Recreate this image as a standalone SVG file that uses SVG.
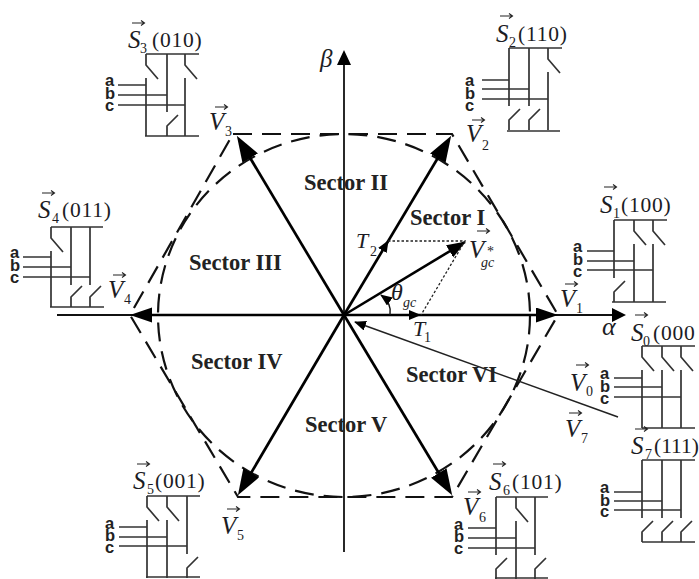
<svg xmlns="http://www.w3.org/2000/svg" xmlns:xlink="http://www.w3.org/1999/xlink" width="699" height="579" viewBox="0 0 699 579">
<style>
text{font-family:"Liberation Serif","Times New Roman",serif;fill:#1c1c24}
.i{font-style:italic}
.sym{font-size:25px;font-style:italic}
.sub{font-size:14px}
.isub{font-size:14px;font-style:italic}
.st{font-size:21.5px;letter-spacing:.8px}
.sec{font-size:22.5px;font-weight:bold;fill:#222}
.abc{font-family:"Liberation Sans",Arial,sans-serif;font-size:16.5px;font-weight:bold;fill:#222}
.c{fill:none;stroke:#333;stroke-width:1.7}
.w{fill:none;stroke:#333;stroke-width:1.5}
.ov{fill:none;stroke:#222;stroke-width:1.1}
.main{stroke:#000;stroke-width:2.7;fill:none}
.h{marker-end:url(#big)}
.d{marker-end:url(#diag)}
.dash{fill:none;stroke:#111;stroke-width:2.2;stroke-dasharray:19 10}
.dot{fill:none;stroke:#222;stroke-width:1.3;stroke-dasharray:2.5 2}
</style>
<defs>
<marker id="big" markerUnits="userSpaceOnUse" markerWidth="24" markerHeight="16" refX="12" refY="7.5" orient="auto"><path d="M0 0L22 7.5L0 15z" fill="#000"/></marker>
<marker id="diag" markerUnits="userSpaceOnUse" markerWidth="28" markerHeight="20" refX="14" refY="9" orient="auto"><path d="M0 0L26 9L0 18z" fill="#000"/></marker>
<marker id="mid" markerUnits="userSpaceOnUse" markerWidth="24" markerHeight="18" refX="18" refY="7" orient="auto"><path d="M0 0L19 7L0 14z" fill="#000"/></marker>
<marker id="sm" markerUnits="userSpaceOnUse" markerWidth="14" markerHeight="12" refX="11" refY="5" orient="auto"><path d="M0 0L12 5L0 10z" fill="#000"/></marker>
<path id="uo" class="c" d="M0 0V11L12 25M0 24V82"/>
<path id="lo" class="c" d="M0 0V58M0 82V72L11 61"/>
<path id="ar" class="ov" d="M0 0H12M9 -2.5L12.5 0L9 2.5"/>
</defs>

<g id="connectors">
<ellipse class="dash" cx="344" cy="315.500" rx="186" ry="181.500"/>
<path class="dash" d="M233 134H452L558 315L452 497H238L130 315Z"/>
<path d="M57 315H612" fill="none" stroke="#111" stroke-width="1.8"/>
<path d="M612 308L626 315L612 322z" fill="#000"/>
<path d="M344 552V62" fill="none" stroke="#111" stroke-width="1.8"/>
<path d="M337 65L344 50L351 65z" fill="#000"/>
<line class="main h" x1="344" y1="315" x2="548" y2="315"/>
<line class="main d" x1="344" y1="315" x2="445" y2="146"/>
<line class="main d" x1="344" y1="315" x2="243" y2="146"/>
<line class="main h" x1="344" y1="315" x2="140" y2="315"/>
<line class="main d" x1="344" y1="315" x2="244" y2="485"/>
<line class="main d" x1="344" y1="315" x2="446" y2="485"/>
<line x1="344" y1="315" x2="465" y2="242" stroke="#000" stroke-width="2.6" marker-end="url(#mid)"/>
<line x1="344" y1="315" x2="388" y2="241" stroke="#000" stroke-width="0" marker-end="url(#sm)"/>
<line x1="344" y1="315" x2="420" y2="315" stroke="#000" stroke-width="0" marker-end="url(#sm)"/>
<path class="dot" d="M388 241H465L421 315"/>
<path d="M390 315Q392 303 381 295" fill="none" stroke="#111" stroke-width="1.4" marker-end="url(#sm)"/>
<line x1="618" y1="417" x2="355" y2="322" stroke="#222" stroke-width="1.6" marker-end="url(#sm)"/>
</g>

<g id="S3">
<path class="c" d="M146 54H199M145 136H199"/>
<use xlink:href="#uo" href="#uo" x="146" y="54"/><use xlink:href="#lo" href="#lo" x="167" y="54"/><use xlink:href="#uo" href="#uo" x="185" y="54"/>
<path class="w" d="M118 85H146M118 95H167M118 105H185"/>
<text class="abc" x="105" y="86">a</text><text class="abc" x="105" y="99">b</text><text class="abc" x="105" y="111">c</text>
<use xlink:href="#ar" href="#ar" x="132" y="23"/>
<text class="sym" x="128" y="48">S</text><text class="sub" x="140" y="53">3</text><text class="st" x="152" y="47">(010)</text>
</g>
<g id="S2">
<path class="c" d="M509 48H562M507 131H560"/>
<use xlink:href="#lo" href="#lo" x="509" y="48"/><use xlink:href="#lo" href="#lo" x="529" y="48"/><use xlink:href="#uo" href="#uo" x="548" y="48"/>
<path class="w" d="M482 80H509M482 89H529M482 99H548"/>
<text class="abc" x="465" y="86">a</text><text class="abc" x="465" y="99">b</text><text class="abc" x="465" y="111">c</text>
<use xlink:href="#ar" href="#ar" x="500" y="16"/>
<text class="sym" x="496" y="42">S</text><text class="sub" x="509" y="47">2</text><text class="st" x="518" y="41">(110)</text>
</g>
<g id="S1">
<path class="c" d="M614 220H667M612 302H666"/>
<use xlink:href="#lo" href="#lo" x="614" y="220"/><use xlink:href="#uo" href="#uo" x="634" y="220"/><use xlink:href="#uo" href="#uo" x="653" y="220"/>
<path class="w" d="M587 251H614M587 261H634M587 270H653"/>
<text class="abc" x="573" y="252">a</text><text class="abc" x="573" y="265">b</text><text class="abc" x="573" y="277">c</text>
<use xlink:href="#ar" href="#ar" x="604" y="187"/>
<text class="sym" x="600" y="213">S</text><text class="sub" x="613" y="218">1</text><text class="st" x="621" y="212">(100)</text>
</g>
<g id="S0">
<path class="c" d="M642 346H695M642 428H695"/>
<use xlink:href="#uo" href="#uo" x="642" y="346"/><use xlink:href="#uo" href="#uo" x="662" y="346"/><use xlink:href="#uo" href="#uo" x="681" y="346"/>
<path class="w" d="M614 378H642M614 387H662M614 397H681"/>
<text class="abc" x="600" y="379">a</text><text class="abc" x="600" y="392">b</text><text class="abc" x="600" y="404">c</text>
<use xlink:href="#ar" href="#ar" x="635" y="315"/>
<text class="sym" x="631" y="341">S</text><text class="sub" x="643" y="346">0</text><text class="st" x="653" y="340">(000</text>
</g>
<g id="S7">
<path class="c" d="M642 460H695M642 542H695"/>
<use xlink:href="#lo" href="#lo" x="642" y="460"/><use xlink:href="#lo" href="#lo" x="662" y="460"/><use xlink:href="#lo" href="#lo" x="681" y="460"/>
<path class="w" d="M614 492H642M614 501H662M614 510H681"/>
<text class="abc" x="600" y="493">a</text><text class="abc" x="600" y="506">b</text><text class="abc" x="600" y="517">c</text>
<use xlink:href="#ar" href="#ar" x="635" y="429"/>
<text class="sym" x="631" y="454">S</text><text class="sub" x="645" y="459">7</text><text class="st" x="654" y="453" style="letter-spacing:0">(111)</text>
</g>
<g id="S4">
<path class="c" d="M51 227H103M50 307H104M51 227V238L63 252M51 251V307M71 227V285M71 307V297L82 286M90 227V285M90 307V297L101 286"/>
<path class="w" d="M23 257H51M23 267H71M23 277H90"/>
<text class="abc" x="10" y="258">a</text><text class="abc" x="10" y="271">b</text><text class="abc" x="10" y="283">c</text>
<use xlink:href="#ar" href="#ar" x="42" y="193"/>
<text class="sym" x="38" y="218">S</text><text class="sub" x="52" y="223">4</text><text class="st" x="62" y="217">(011)</text>
</g>
<g id="S5">
<path class="c" d="M147 496H200M146 577H200"/>
<use xlink:href="#uo" href="#uo" x="147" y="496"/><use xlink:href="#uo" href="#uo" x="167" y="496"/><use xlink:href="#lo" href="#lo" x="187" y="496"/>
<path class="w" d="M119 527H147M119 537H167M119 546H187"/>
<text class="abc" x="105" y="529">a</text><text class="abc" x="105" y="541">b</text><text class="abc" x="105" y="553">c</text>
<use xlink:href="#ar" href="#ar" x="137" y="464"/>
<text class="sym" x="133" y="489">S</text><text class="sub" x="147" y="494">5</text><text class="st" x="155" y="488">(001)</text>
</g>
<g id="S6">
<path class="c" d="M496 497H548M495 578H548"/>
<use xlink:href="#lo" href="#lo" x="496" y="497"/><use xlink:href="#uo" href="#uo" x="516" y="497"/><use xlink:href="#lo" href="#lo" x="535" y="497"/>
<path class="w" d="M468 528H496M468 538H516M468 548H535"/>
<text class="abc" x="454" y="530">a</text><text class="abc" x="454" y="542">b</text><text class="abc" x="454" y="554">c</text>
<use xlink:href="#ar" href="#ar" x="493" y="464"/>
<text class="sym" x="489" y="490">S</text><text class="sub" x="503" y="495">6</text><text class="st" x="512" y="489">(101)</text>
</g>

<g id="V1"><use xlink:href="#ar" href="#ar" x="565" y="284"/><text class="sym" x="560" y="307">V</text><text class="sub" x="576" y="313">1</text></g>
<g id="V2"><use xlink:href="#ar" href="#ar" x="472" y="120"/><text class="sym" x="466" y="142">V</text><text class="sub" x="482" y="150">2</text></g>
<g id="V3"><use xlink:href="#ar" href="#ar" x="215" y="107"/><text class="sym" x="209" y="130">V</text><text class="sub" x="225" y="136">3</text></g>
<g id="V4"><use xlink:href="#ar" href="#ar" x="113" y="275"/><text class="sym" x="108" y="298">V</text><text class="sub" x="124" y="304">4</text></g>
<g id="V5"><use xlink:href="#ar" href="#ar" x="227" y="509"/><text class="sym" x="221" y="534">V</text><text class="sub" x="237" y="540">5</text></g>
<g id="V6"><use xlink:href="#ar" href="#ar" x="468" y="492"/><text class="sym" x="463" y="515">V</text><text class="sub" x="479" y="522">6</text></g>
<g id="V0"><use xlink:href="#ar" href="#ar" x="576" y="365"/><text class="sym" x="570" y="391">V</text><text class="sub" x="586" y="396">0</text></g>
<g id="V7"><use xlink:href="#ar" href="#ar" x="569" y="413"/><text class="sym" x="565" y="437">V</text><text class="sub" x="581" y="443">7</text></g>
<g id="Vgc"><use xlink:href="#ar" href="#ar" x="477" y="231"/><text class="sym" x="469" y="258">V</text><text class="sub" x="487" y="256">*</text><text class="isub" x="481" y="267">gc</text></g>
<g id="T2"><text class="i" font-size="22" x="356" y="248">T</text><text class="sub" x="370" y="256">2</text></g>
<g id="T1"><text class="i" font-size="22" x="413" y="336">T</text><text class="sub" x="424" y="342">1</text></g>
<g id="theta"><text class="i" font-size="24" x="391" y="300">θ</text><text class="isub" x="403" y="307">gc</text></g>
<g id="axes-labels"><text class="i" font-size="25" x="320" y="67">β</text><text class="i" font-size="26" x="602" y="335">α</text></g>

<g id="sectors">
<text class="sec" x="410" y="225">Sector I</text>
<text class="sec" x="304" y="190">Sector II</text>
<text class="sec" x="189" y="270">Sector III</text>
<text class="sec" x="191" y="369">Sector IV</text>
<text class="sec" x="305" y="432">Sector V</text>
<text class="sec" x="406" y="382">Sector VI</text>
</g>
</svg>
